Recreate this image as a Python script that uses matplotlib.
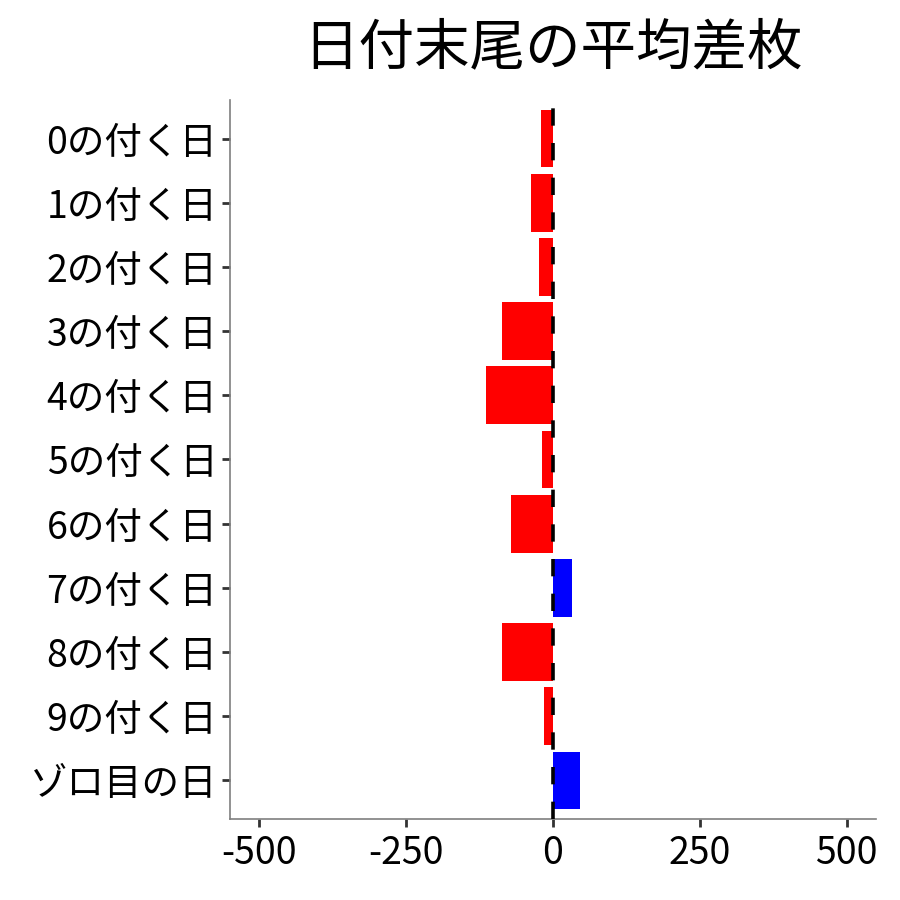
import matplotlib
matplotlib.use("Agg")
import matplotlib.pyplot as plt
import numpy as np

plt.rcParams['font.family'] = ['Noto Sans CJK JP', 'DejaVu Sans']

categories = ['0の付く日', '1の付く日', '2の付く日', '3の付く日', '4の付く日',
              '5の付く日', '6の付く日', '7の付く日', '8の付く日', '9の付く日',
              'ゾロ目の日']
avg_diff = [-21, -38, -24, -87, -114, -19, -72, 32, -87, -16, 46]
xticks = [-500, -250, 0, 250, 500]
title = '日付末尾の平均差枚'

colors = ['blue' if v > 0 else 'red' for v in avg_diff]
ypos = np.arange(len(categories))

fig = plt.figure(figsize=(9, 9), dpi=100)
ax = fig.add_axes([230/900, 81/900, 646/900, 719/900])

ax.barh(ypos, avg_diff, height=0.9, color=colors, zorder=2)
vl = ax.axvline(0, color='black', lw=2.6, zorder=3)
vl.set_dashes([4.8, 4.8])

ax.set_yticks(ypos)
ax.set_yticklabels(categories)
ax.set_ylim(len(categories) - 0.4, -0.6)
ax.set_xlim(-550, 550)
ax.set_xticks(xticks)
ax.set_xticklabels([str(t) for t in xticks])

for s in ['top', 'right']:
    ax.spines[s].set_visible(False)
for s in ['left', 'bottom']:
    ax.spines[s].set_color('#7f7f7f')
    ax.spines[s].set_linewidth(1.2)

ax.tick_params(axis='both', labelsize=27, colors='#333333', labelcolor='black',
               length=6, width=2, pad=3)
ax.tick_params(axis='x', pad=5)

fig.suptitle(title, fontsize=40, x=553/900, y=0.978, va='top')

fig.savefig('out.png', dpi=100, facecolor='white')
